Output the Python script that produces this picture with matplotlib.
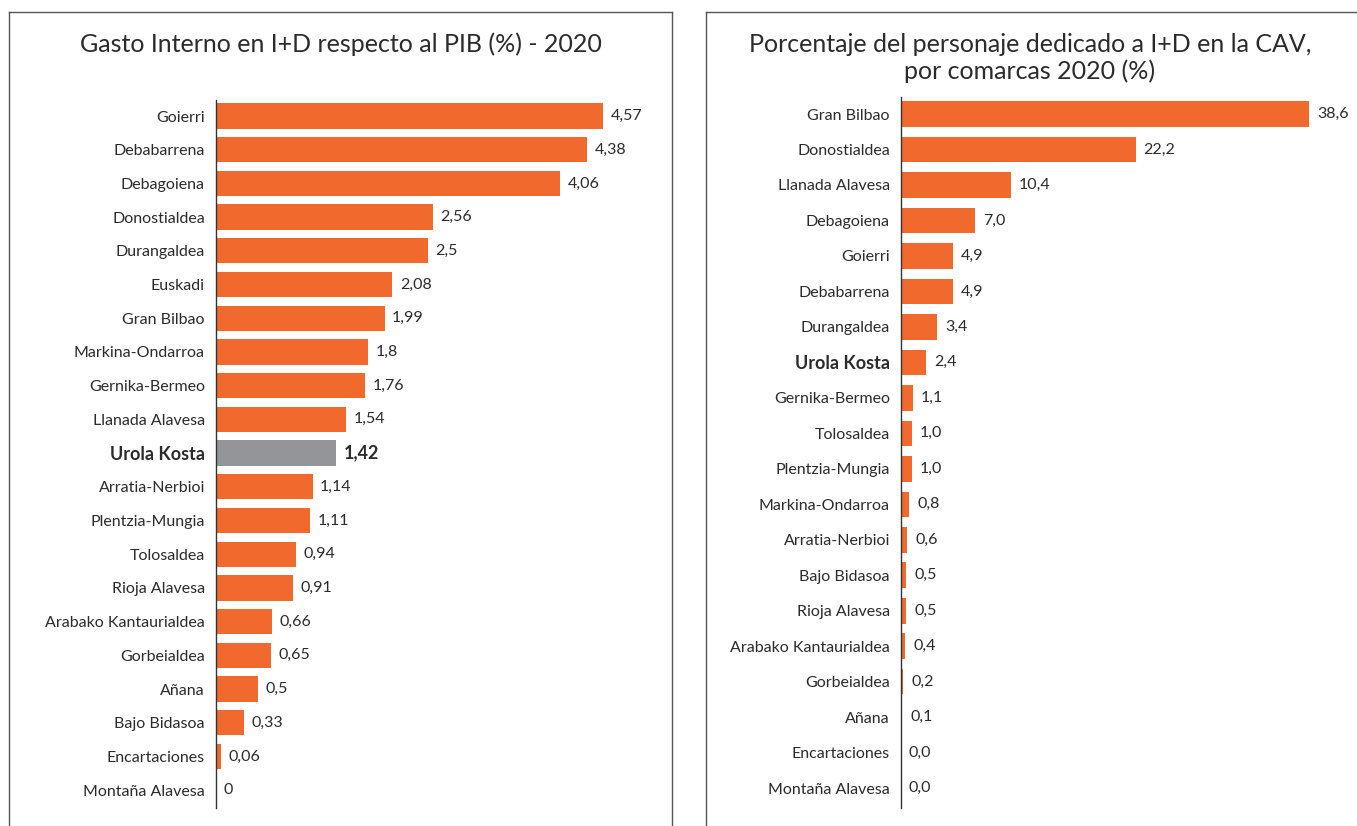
import matplotlib
matplotlib.use("Agg")
import matplotlib.pyplot as plt
from matplotlib.lines import Line2D

plt.rcParams['font.family'] = ['Lato', 'DejaVu Sans']

# Left chart data
left_title = "Gasto Interno en I+D respecto al PIB (%) - 2020"
left_cats = ["Goierri", "Debabarrena", "Debagoiena", "Donostialdea", "Durangaldea",
             "Euskadi", "Gran Bilbao", "Markina-Ondarroa", "Gernika-Bermeo",
             "Llanada Alavesa", "Urola Kosta", "Arratia-Nerbioi", "Plentzia-Mungia",
             "Tolosaldea", "Rioja Alavesa", "Arabako Kantaurialdea", "Gorbeialdea",
             "Añana", "Bajo Bidasoa", "Encartaciones", "Montaña Alavesa"]
left_vals = [4.57, 4.38, 4.06, 2.56, 2.5, 2.08, 1.99, 1.8, 1.76, 1.54, 1.42,
             1.14, 1.11, 0.94, 0.91, 0.66, 0.65, 0.5, 0.33, 0.06, 0]
left_labels = ["4,57", "4,38", "4,06", "2,56", "2,5", "2,08", "1,99", "1,8", "1,76",
               "1,54", "1,42", "1,14", "1,11", "0,94", "0,91", "0,66", "0,65", "0,5",
               "0,33", "0,06", "0"]

# Right chart data
right_title = "Porcentaje del personaje dedicado a I+D en la CAV,\npor comarcas 2020 (%)"
right_cats = ["Gran Bilbao", "Donostialdea", "Llanada Alavesa", "Debagoiena", "Goierri",
              "Debabarrena", "Durangaldea", "Urola Kosta", "Gernika-Bermeo", "Tolosaldea",
              "Plentzia-Mungia", "Markina-Ondarroa", "Arratia-Nerbioi", "Bajo Bidasoa",
              "Rioja Alavesa", "Arabako Kantaurialdea", "Gorbeialdea", "Añana",
              "Encartaciones", "Montaña Alavesa"]
right_vals = [38.6, 22.2, 10.4, 7.0, 4.9, 4.9, 3.4, 2.4, 1.1, 1.0, 1.0, 0.8, 0.6,
              0.5, 0.5, 0.4, 0.2, 0.1, 0.0, 0.0]
right_labels = ["38,6", "22,2", "10,4", "7,0", "4,9", "4,9", "3,4", "2,4", "1,1", "1,0",
                "1,0", "0,8", "0,6", "0,5", "0,5", "0,4", "0,2", "0,1", "0,0", "0,0"]

highlight = "Urola Kosta"
ORANGE = "#F2692E"
GRAY = "#939598"
TEXT = "#2b2b2b"

W, H = 1357, 826
fig = plt.figure(figsize=(W / 100, H / 100), dpi=100)


def px_axes(x0, y_top, width, y_bot):
    return fig.add_axes([x0 / W, 1 - y_bot / H, width / W, (y_bot - y_top) / H])


def draw(ax, cats, vals, labels, xmax, ylim, hl_color, bar_h, bold_value):
    n = len(cats)
    ys = list(range(n))
    colors = [hl_color if c == highlight else ORANGE for c in cats]
    ax.barh(ys, vals, height=bar_h, color=colors, zorder=2)
    ax.set_xlim(0, xmax)
    ax.set_ylim(*ylim)
    ax.set_yticks(ys)
    ax.set_yticklabels(cats)
    for t, c in zip(ax.get_yticklabels(), cats):
        t.set_color(TEXT)
        if c == highlight:
            t.set_fontweight('bold')
            t.set_fontsize(13)
        else:
            t.set_fontsize(11.5)
    ax.tick_params(axis='y', length=0, pad=8)
    ax.set_xticks([])
    for s in ['top', 'right', 'bottom']:
        ax.spines[s].set_visible(False)
    ax.spines['left'].set_color('#333333')
    ax.spines['left'].set_linewidth(1.0)
    ax.spines['left'].set_zorder(3)
    off = xmax * 0.018
    for y, v, lab, c in zip(ys, vals, labels, cats):
        if c == highlight and bold_value:
            ax.text(v + off, y, lab, va='center', ha='left', fontsize=13,
                    fontweight='bold', color=TEXT)
        else:
            ax.text(v + off, y, lab, va='center', ha='left', fontsize=11.5,
                    color=TEXT)


# left axes: spine at x=216, 84.7 px per unit
axL = px_axes(216, 100, 5.0 * 84.7, 808)
draw(axL, left_cats, left_vals, left_labels, 5.0, (20.53, -0.475), GRAY, 0.75, True)

# right axes: spine at x=901, 10.57 px per unit
axR = px_axes(901, 97, 42 * 10.57, 808)
draw(axR, right_cats, right_vals, right_labels, 42, (19.56, -0.48), ORANGE, 0.72, False)

fig.text(341 / W, 1 - 44 / H, left_title, ha='center', va='center',
         fontsize=18, color=TEXT)
fig.text(1030 / W, 1 - 58 / H, right_title, ha='center', va='center',
         fontsize=18, color=TEXT, linespacing=1.15)

# panel borders
lc = '#555555'
fig.add_artist(Line2D([9 / W, 9 / W], [0, 1 - 12 / H], color=lc, lw=1.0))
fig.add_artist(Line2D([9 / W, 672 / W], [1 - 12 / H, 1 - 12 / H], color=lc, lw=1.0))
fig.add_artist(Line2D([672 / W, 672 / W], [0, 1 - 12 / H], color=lc, lw=1.0))
fig.add_artist(Line2D([706 / W, 706 / W], [0, 1 - 12 / H], color=lc, lw=1.0))
fig.add_artist(Line2D([706 / W, 1], [1 - 12 / H, 1 - 12 / H], color=lc, lw=1.0))

fig.savefig("out.png", dpi=100)
